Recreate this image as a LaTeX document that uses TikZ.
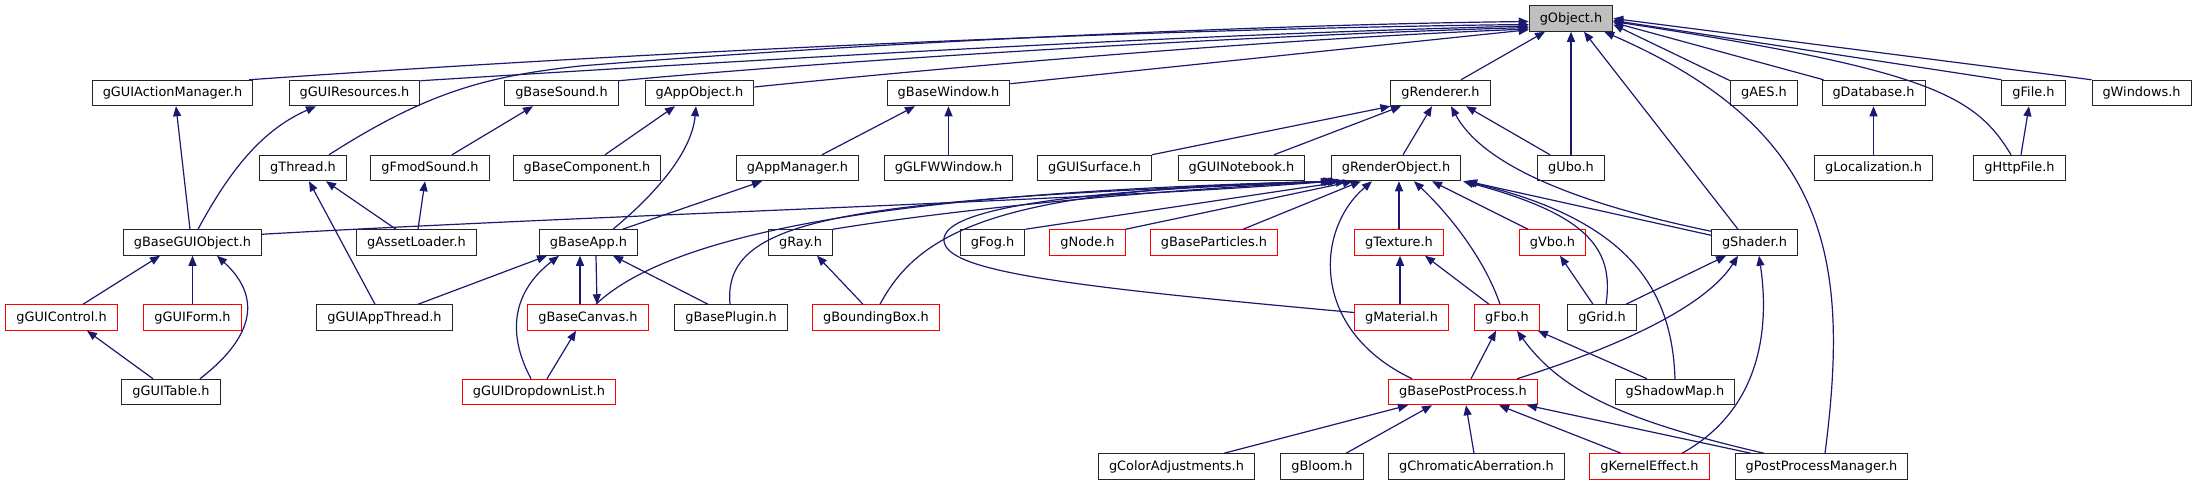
\documentclass[tikz,border=0pt]{standalone}
\usepackage{fontspec}
\setmainfont{DejaVu Sans}
\usetikzlibrary{arrows.meta,calc}
\definecolor{edgeblue}{RGB}{25,25,112}
\definecolor{objgray}{RGB}{191,191,191}
\tikzset{
  fbox/.style={draw=black!85, line width=1pt, fill=white, minimum height=25.5pt, inner xsep=10.5pt, inner ysep=0pt, font=\fontsize{12.9}{15}\selectfont},
  rbox/.style={fbox, draw=red},
  gbox/.style={fbox, fill=objgray},
  e/.style={draw=edgeblue, line width=1.2pt, -{Triangle[length=10pt,width=8pt]}},
}
\begin{document}
\begin{tikzpicture}[x=1pt,y=-1pt]
\useasboundingbox (0,0) rectangle (2198,485);
% row 1
\node[gbox] (obj) at (1571,18.5) {gObject.h};
% row 2
\node[fbox] (gam) at (172.5,93) {gGUIActionManager.h};
\node[fbox] (gres) at (354.5,93) {gGUIResources.h};
\node[fbox] (bsnd) at (561.5,93) {gBaseSound.h};
\node[fbox] (appo) at (699.5,93) {gAppObject.h};
\node[fbox] (bwin) at (948.5,93) {gBaseWindow.h};
\node[fbox] (rend) at (1440.5,93) {gRenderer.h};
\node[fbox] (aes) at (1764,93) {gAES.h};
\node[fbox] (db) at (1873.5,93) {gDatabase.h};
\node[fbox] (file) at (2033.5,93) {gFile.h};
\node[fbox] (win) at (2141.5,93) {gWindows.h};
% row 3
\node[fbox] (thr) at (303,168) {gThread.h};
\node[fbox] (fmod) at (430,168) {gFmodSound.h};
\node[fbox] (bcomp) at (587,168) {gBaseComponent.h};
\node[fbox] (appm) at (797.5,168) {gAppManager.h};
\node[fbox] (glfw) at (948.5,168) {gGLFWWindow.h};
\node[fbox] (surf) at (1094.5,168) {gGUISurface.h};
\node[fbox] (nbk) at (1241.5,168) {gGUINotebook.h};
\node[fbox] (ro) at (1396,168) {gRenderObject.h};
\node[fbox] (ubo) at (1571,168) {gUbo.h};
\node[fbox] (loc) at (1873.5,168) {gLocalization.h};
\node[fbox] (http) at (2019.5,168) {gHttpFile.h};
% row 4
\node[fbox] (bgui) at (192.5,242.5) {gBaseGUIObject.h};
\node[fbox] (asset) at (416.5,242.5) {gAssetLoader.h};
\node[fbox] (bapp) at (588.5,242.5) {gBaseApp.h};
\node[fbox] (ray) at (800.5,242.5) {gRay.h};
\node[fbox] (fog) at (992.5,242.5) {gFog.h};
\node[rbox] (gnode) at (1087.5,242.5) {gNode.h};
\node[rbox] (part) at (1214,242.5) {gBaseParticles.h};
\node[rbox] (tex) at (1399,242.5) {gTexture.h};
\node[rbox] (vbo) at (1552.5,242.5) {gVbo.h};
\node[fbox] (shd) at (1754.5,242.5) {gShader.h};
% row 5
\node[rbox] (ctrl) at (61.5,317.5) {gGUIControl.h};
\node[rbox] (form) at (192.5,317.5) {gGUIForm.h};
\node[fbox] (gat) at (384.5,317.5) {gGUIAppThread.h};
\node[rbox] (canv) at (588,317.5) {gBaseCanvas.h};
\node[fbox] (plug) at (731,317.5) {gBasePlugin.h};
\node[rbox] (bbox) at (876,317.5) {gBoundingBox.h};
\node[rbox] (mat) at (1401.5,317.5) {gMaterial.h};
\node[rbox] (fbo) at (1507,317.5) {gFbo.h};
\node[fbox] (grid) at (1602,317.5) {gGrid.h};
% row 6
\node[fbox] (tbl) at (171,392) {gGUITable.h};
\node[rbox] (ddl) at (539,392) {gGUIDropdownList.h};
\node[rbox] (bpp) at (1463,392) {gBasePostProcess.h};
\node[fbox] (smap) at (1675,392) {gShadowMap.h};
% row 7
\node[fbox] (cadj) at (1176.5,466.5) {gColorAdjustments.h};
\node[fbox] (bloom) at (1322,466.5) {gBloom.h};
\node[fbox] (chrom) at (1476.5,466.5) {gChromaticAberration.h};
\node[rbox] (kern) at (1649.5,466.5) {gKernelEffect.h};
\node[fbox] (ppm) at (1821.5,466.5) {gPostProcessManager.h};

% ---- edges to gObject
\draw[e] ($(gam.north east)+(-4,0)$) .. controls (700,48) and (1200,28) .. ($(obj.west)+(0,6)$);
\draw[e] ($(gres.north east)+(0,1)$) .. controls (800,57) and (1200,34) .. ($(obj.west)+(0,7.5)$);
\draw[e] ($(thr.north)+(26,0)$) .. controls (430,90) and (490,76) .. (580,66) .. controls (900,40) and (1300,24) .. ($(obj.west)+(0,3)$);
\draw[e] ($(bsnd.north east)+(0,1)$) .. controls (900,55) and (1300,34) .. ($(obj.west)+(0,9)$);
\draw[e] ($(appo.east)+(0,-6)$) .. controls (1000,62) and (1300,38) .. ($(obj.west)+(0,10.5)$);
\draw[e] ($(bwin.north east)+(0,4)$) -- ($(obj.south west)+(0,-2)$);
\draw[e] ($(rend.north)+(20.5,0)$) -- ($(obj.south)+(-26,0)$);
\draw[e] (ubo.north) -- (obj.south);
\draw[e] ($(shd.north)+(-16.5,0)$) -- ($(obj.south)+(13,0)$);
\draw[e] ($(ppm.north)+(3.5,0)$) .. controls (1850,260) and (1830,130) .. ($(obj.south east)+(-9,0)$);
\draw[e] ($(aes.north west)+(0,1)$) -- ($(obj.east)+(0,6)$);
\draw[e] ($(db.north west)+(2,0)$) -- ($(obj.east)+(0,4)$);
\draw[e] (file.north west) -- ($(obj.east)+(0,2)$);
\draw[e] ($(http.north)+(-8.5,0)$) .. controls (1975,95) and (1930,70) .. ($(obj.east)+(0,3)$);
\draw[e] (win.north west) -- (obj.east);

% ---- gRenderer
\draw[e] (surf.north east) -- (rend.south west);
\draw[e] ($(nbk.north)+(32.5,0)$) -- ($(rend.south)+(-39.5,0)$);
\draw[e] ($(ro.north)+(7,0)$) -- ($(rend.south)+(-8.5,0)$);
\draw[e] ($(ubo.north)+(-21,0)$) -- ($(rend.south)+(25.5,0)$);
\draw[e] ($(shd.north west)+(0,2)$) .. controls (1560,200) and (1480,160) .. ($(rend.south)+(10.5,0)$);

% ---- row 3 -> row 2
\draw[e] ($(fmod.north)+(22,0)$) -- ($(bsnd.south)+(-28.5,0)$);
\draw[e] ($(bcomp.north)+(18,0)$) -- ($(appo.south)+(-24.5,0)$);
\draw[e] ($(bapp.north)+(24.5,0)$) .. controls (660,190) and (692,150) .. ($(appo.south)+(-3.5,0)$);
\draw[e] ($(appm.north)+(24.5,0)$) -- ($(bwin.south)+(-33.5,0)$);
\draw[e] (glfw.north) -- (bwin.south);
\draw[e] (loc.north) -- (db.south);
\draw[e] ($(http.north)+(1.5,0)$) -- ($(file.south)+(-4.5,0)$);
\draw[e] ($(bgui.north)+(-2.5,0)$) -- ($(gam.south)+(3.5,0)$);
\draw[e] ($(bgui.north)+(5.5,0)$) .. controls (230,170) and (262,130) .. ($(gres.south)+(-38.5,0)$);
\draw[e] ($(asset.north)+(-20.5,0)$) -- ($(thr.south)+(23,0)$);
\draw[e] ($(gat.north)+(-9.5,0)$) -- ($(thr.south)+(6,0)$);
\draw[e] ($(asset.north)+(1.5,0)$) -- ($(fmod.south)+(-5,0)$);
\draw[e] ($(bapp.north)+(34,0)$) -- ($(appm.south)+(-35.5,0)$);

% ---- gRenderObject
\draw[e] ($(bgui.north east)+(0,5)$) .. controls (600,215) and (1100,200) .. (ro.south west);
\draw[e] ($(canv.north)+(8,0)$) .. controls (690,215) and (1000,190) .. ($(ro.south west)+(2,0)$);
\draw[e] ($(plug.north)+(-1,0)$) .. controls (722,215) and (850,200) .. ($(ro.south west)+(4,0)$);
\draw[e] (ray.north east) .. controls (950,210) and (1150,190) .. ($(ro.south west)+(7,0)$);
\draw[e] ($(bbox.north)+(4,0)$) .. controls (920,230) and (1000,188) .. ($(ro.south west)+(9,0)$);
\draw[e] ($(mat.west)+(0,-5)$) .. controls (1050,285) and (940,270) .. (944,238) .. controls (950,200) and (1150,188) .. ($(ro.south west)+(3,0)$);
\draw[e] (fog.north east) -- ($(ro.south west)+(15,0)$);
\draw[e] (gnode.north east) -- ($(ro.south west)+(22,0)$);
\draw[e] ($(part.north)+(29,0)$) -- ($(ro.south west)+(30,0)$);
\draw[e] (tex.north) -- (tex.north |- ro.south);
\draw[e] ($(bpp.north)+(-51,0)$) .. controls (1310,330) and (1315,230) .. ($(ro.south)+(-24,0)$);
\draw[e] ($(fbo.north)+(-7,0)$) .. controls (1485,260) and (1450,215) .. ($(ro.south)+(18,0)$);
\draw[e] ($(vbo.north)+(-24.5,0)$) -- ($(ro.south)+(36,0)$);
\draw[e] ($(grid.north)+(4,0)$) .. controls (1614,250) and (1590,215) .. ($(ro.south east)+(2,0)$);
\draw[e] (smap.north) .. controls (1672,290) and (1630,220) .. ($(ro.south east)+(4,0)$);
\draw[e] ($(shd.north west)+(0,6)$) -- ($(ro.south east)+(6,0)$);

% ---- gBaseGUIObject
\draw[e] ($(ctrl.north)+(21.5,0)$) -- ($(bgui.south)+(-32.5,0)$);
\draw[e] (form.north) -- (form.north |- bgui.south);
\draw[e] ($(tbl.north)+(29,0)$) .. controls (250,340) and (265,300) .. ($(bgui.south)+(24.5,0)$);
\draw[e] ($(tbl.north)+(-18,0)$) -- ($(ctrl.south)+(25.5,0)$);

% ---- gBaseApp
\draw[e] ($(gat.north)+(33.5,0)$) -- ($(bapp.south)+(-41.5,0)$);
\draw[e] ($(canv.north)+(-8,0)$) -- ($(bapp.south)+(-8.5,0)$);
\draw[e] ($(bapp.south)+(7.5,0)$) -- ($(canv.north)+(9,0)$);
\draw[e] ($(plug.north)+(-23,0)$) -- ($(bapp.south)+(24.5,0)$);
\draw[e] ($(ddl.north)+(-8,0)$) .. controls (505,330) and (515,290) .. ($(bapp.south)+(-29.5,0)$);
\draw[e] ($(ddl.north)+(8,0)$) -- ($(canv.south)+(-12,0)$);

% ---- misc
\draw[e] ($(bbox.north)+(-13,0)$) -- ($(ray.south)+(16.5,0)$);
\draw[e] ($(mat.north)+(-1.5,0)$) -- ($(tex.south)+(1,0)$);
\draw[e] ($(fbo.north)+(-18,0)$) -- ($(tex.south)+(26,0)$);
\draw[e] ($(grid.north)+(-9,0)$) -- ($(vbo.south)+(7.5,0)$);
\draw[e] ($(grid.north)+(24,0)$) -- ($(shd.south)+(-28.5,0)$);
\draw[e] ($(bpp.north)+(54,0)$) .. controls (1640,340) and (1710,300) .. ($(shd.south)+(-16.5,0)$);
\draw[e] ($(kern.north)+(32.5,0)$) .. controls (1760,410) and (1770,330) .. ($(shd.south)+(4.5,0)$);

% ---- gFbo
\draw[e] ($(bpp.north)+(8,0)$) -- ($(fbo.south)+(-11,0)$);
\draw[e] ($(smap.north)+(-28,0)$) -- ($(fbo.south east)+(-2,0)$);
\draw[e] ($(ppm.north)+(-57.5,0)$) .. controls (1620,420) and (1560,390) .. ($(fbo.south)+(10,0)$);

% ---- gBasePostProcess
\draw[e] ($(cadj.north)+(47.5,0)$) -- ($(bpp.south)+(-55,0)$);
\draw[e] ($(bloom.north)+(24,0)$) -- ($(bpp.south)+(-31,0)$);
\draw[e] ($(chrom.north)+(-2.5,0)$) -- ($(bpp.south)+(3,0)$);
\draw[e] ($(kern.north)+(-28.5,0)$) -- ($(bpp.south)+(36,0)$);
\draw[e] ($(ppm.north)+(-70.5,0)$) -- ($(bpp.south)+(64,0)$);
\end{tikzpicture}
\end{document}
